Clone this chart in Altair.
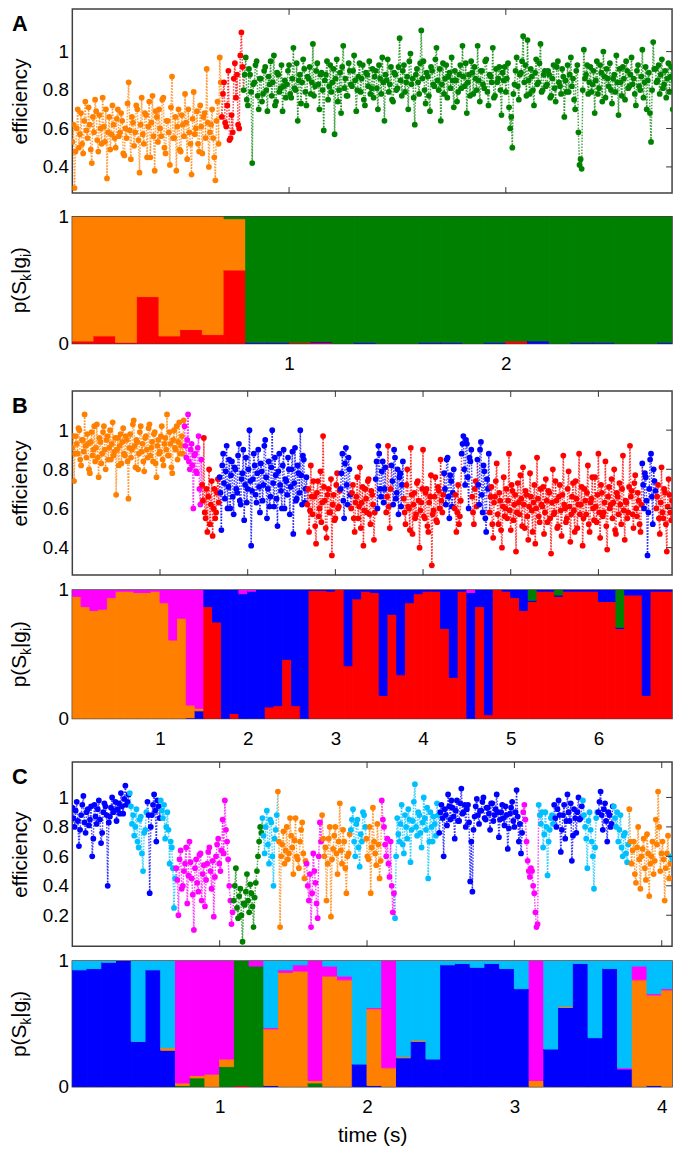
import altair as alt
import pandas as pd

FONT = "Liberation Sans, DejaVu Sans, sans-serif"
STATES = ["orange", "red", "green", "blue", "magenta", "lightblue"]
STATE_COLORS = ["#FF8000", "#FF0000", "#008000", "#0000FF", "#FF00FF", "#00BFFF"]

# ---------------- Panel A efficiency trace (runs of one state) ----------------
A_dt = 0.005
A_runs = [
    ("orange", [0.53, 0.62, 0.29, 0.48, 0.60, 0.70, 0.50, 0.57, 0.68, 0.52, 0.47, 0.64, 0.74, 0.59, 0.55, 0.71, 0.62, 0.49, 0.42, 0.66,
                0.58, 0.75, 0.69, 0.54, 0.48, 0.67, 0.60, 0.52, 0.76, 0.61, 0.53, 0.70, 0.34, 0.58, 0.66, 0.49, 0.57, 0.72, 0.62, 0.55,
                0.50, 0.65, 0.70, 0.56, 0.58, 0.68, 0.64, 0.47, 0.46, 0.60, 0.55, 0.73, 0.84, 0.59, 0.44, 0.66, 0.63, 0.51, 0.58, 0.72,
                0.70, 0.54, 0.37, 0.62, 0.76, 0.57, 0.52, 0.68, 0.67, 0.45, 0.61, 0.74, 0.45, 0.63, 0.77, 0.56, 0.38, 0.69, 0.66, 0.53,
                0.70, 0.60, 0.56, 0.75, 0.76, 0.50, 0.47, 0.64, 0.64, 0.58, 0.41, 0.71, 0.87, 0.55, 0.55, 0.66, 0.38, 0.61, 0.70, 0.49,
                0.48, 0.67, 0.62, 0.56, 0.78, 0.63, 0.44, 0.70, 0.58, 0.52, 0.36, 0.65, 0.79, 0.57, 0.60, 0.69, 0.52, 0.48, 0.72, 0.61,
                0.47, 0.66, 0.68, 0.55, 0.91, 0.63, 0.40, 0.58, 0.62, 0.70, 0.55, 0.45, 0.33, 0.64, 0.74, 0.52, 0.97, 0.84]),
    ("red", [0.66, 0.78, 0.84, 0.63, 0.61, 0.72, 0.90, 0.54, 0.55, 0.67, 0.58, 0.86, 0.94, 0.76, 0.88, 0.62, 0.60, 0.98, 1.10, 0.92]),
    ("green", [0.80, 0.88, 0.97, 0.75, 0.72, 0.91, 0.88, 0.79, 0.42, 0.83, 0.84, 0.93, 0.95, 0.77, 0.70, 0.86, 0.86, 0.74, 0.78, 0.90,
               0.92, 0.80, 0.69, 0.87, 0.83, 0.95, 0.77, 0.84, 0.98, 0.72, 0.74, 0.89, 0.88, 0.79, 0.81, 0.93, 0.69, 0.82, 0.85, 0.76,
               0.83, 0.90, 0.93, 0.78, 0.76, 0.86, 1.02, 0.81, 0.80, 0.94, 0.64, 0.85, 0.88, 0.73, 0.84, 0.96, 0.91, 0.79, 0.72, 0.87,
               0.86, 0.92, 0.78, 0.84, 1.04, 0.77, 0.82, 0.90, 0.94, 0.83, 0.70, 0.88, 0.89, 0.80, 0.59, 0.85, 0.88, 0.95, 0.75, 0.82,
               0.93, 0.79, 0.84, 0.91, 0.57, 0.86, 0.96, 0.74, 0.80, 0.89, 0.68, 0.92, 1.03, 0.81, 0.86, 0.77, 0.77, 0.94, 0.90, 0.83,
               0.82, 0.90, 0.98, 0.85, 0.69, 0.80, 0.87, 0.94, 0.79, 0.86, 0.93, 0.75, 0.72, 0.89, 0.88, 0.82, 0.95, 0.78, 0.81, 0.91,
               0.76, 0.87, 0.90, 0.81, 0.70, 0.93, 0.86, 0.78, 0.97, 0.84, 0.64, 0.88, 0.85, 0.96, 0.79, 0.83, 0.92, 0.75, 0.74, 0.89,
               0.88, 0.80, 0.81, 0.92, 1.07, 0.85, 0.77, 0.90, 0.93, 0.79, 0.84, 0.87, 0.70, 0.95, 0.99, 0.83, 0.86, 0.76, 0.62, 0.88,
               0.91, 0.84, 0.78, 0.94, 1.11, 0.86, 0.95, 0.80, 0.73, 0.89, 0.87, 0.77, 0.69, 0.92, 0.90, 0.83, 0.82, 0.96, 1.02, 0.85,
               0.80, 0.91, 0.64, 0.83, 0.94, 0.78, 0.86, 0.93, 0.76, 0.87, 0.89, 0.81, 0.97, 0.85, 0.71, 0.90, 0.85, 0.74, 0.79, 0.88,
               0.93, 0.81, 1.03, 0.87, 0.82, 0.94, 0.68, 0.84, 0.88, 0.77, 0.95, 0.89, 0.78, 0.92, 0.86, 0.80, 1.03, 0.85, 0.74, 0.90,
               0.90, 0.83, 0.81, 0.95, 0.96, 0.79, 0.72, 0.88, 0.87, 0.84, 1.02, 0.76, 0.77, 0.91, 0.84, 0.86, 0.92, 0.80, 0.67, 0.89,
               0.85, 0.92, 0.79, 0.86, 0.94, 0.71, 0.60, 0.66, 0.50, 0.78, 0.83, 0.90, 0.97, 0.82, 0.75, 0.88, 0.89, 0.95, 1.08, 0.84,
               0.93, 0.77, 1.06, 0.85, 0.78, 0.91, 0.87, 0.80, 0.72, 0.89, 0.96, 0.83, 0.84, 0.94, 1.04, 0.79, 0.80, 0.88, 0.90, 0.82,
               0.83, 0.90, 0.88, 0.76, 0.77, 0.86, 0.93, 0.81, 0.74, 0.92, 0.95, 0.84, 0.82, 0.78, 0.91, 0.87, 0.66, 0.85, 0.79, 0.93,
               0.79, 0.88, 0.97, 0.82, 0.86, 0.75, 0.70, 0.90, 0.93, 0.58, 0.41, 0.44, 0.39, 0.80, 1.01, 0.86, 0.88, 0.93, 0.78, 0.84,
               0.92, 0.79, 0.83, 0.90, 0.68, 0.85, 0.95, 0.78, 0.81, 0.93, 0.89, 0.74, 1.00, 0.87, 0.76, 0.91, 0.86, 0.82, 0.94, 0.80,
               0.73, 0.86, 0.88, 0.79, 0.98, 0.84, 0.67, 0.91, 0.84, 0.77, 0.92, 0.86, 0.75, 0.95, 0.90, 0.81, 0.82, 0.88, 0.97, 0.83,
               0.86, 0.78, 0.72, 0.90, 0.93, 0.82, 0.80, 0.87, 1.01, 0.76, 0.84, 0.92, 0.70, 0.85, 0.89, 0.68, 0.53, 0.80, 1.05, 0.91,
               0.91, 0.84, 0.85, 0.93, 0.78, 0.88, 0.96, 0.81, 0.83, 0.90, 0.76, 0.86, 0.94, 0.79, 0.87, 0.92, 0.70, 0.85, 0.99, 0.88]),
]

# ---------------- Panel B efficiency trace ----------------
B_dt = 0.01
B_runs = [
    ("orange", [0.91, 0.97, 0.74, 0.88, 0.97, 0.93, 0.88, 1.01, 1.00, 0.85, 0.82, 0.95, 0.95, 0.89, 1.08, 0.92, 0.86, 0.98, 0.93, 0.80,
                0.78, 0.94, 0.99, 0.87, 0.90, 1.02, 0.84, 0.91, 1.03, 0.86, 0.76, 0.96, 0.94, 0.83, 0.88, 0.99, 1.02, 0.90, 0.80, 0.95,
                0.97, 0.85, 0.91, 1.00, 0.85, 0.93, 1.04, 0.87, 0.89, 0.96, 0.67, 0.90, 0.96, 0.82, 0.92, 0.98, 0.83, 0.94, 1.01, 0.88,
                0.87, 0.97, 0.95, 0.84, 0.65, 0.91, 0.98, 0.86, 0.90, 1.03, 1.05, 0.92, 0.81, 0.95, 0.94, 0.80, 0.88, 0.99, 1.02, 0.89,
                0.93, 0.84, 0.79, 0.96, 0.97, 0.90, 0.86, 1.01, 1.03, 0.87, 0.91, 0.94, 0.84, 0.98, 0.99, 0.83, 0.76, 0.92, 0.95, 0.88,
                0.89, 0.97, 1.02, 0.85, 0.82, 0.93, 0.96, 0.90, 1.08, 0.87, 0.87, 0.99, 0.93, 0.81, 0.78, 0.95, 1.00, 0.91, 0.90, 1.02,
                0.85, 0.94, 1.04, 0.88, 0.92, 0.97, 0.88, 1.05]),
    ("magenta", [1.02, 0.92, 0.86, 0.95, 1.08, 0.84, 0.80, 0.90, 0.93, 0.82, 0.60, 0.87, 0.88, 0.79, 0.78, 0.91, 0.97, 0.70, 0.62, 0.85]),
    ("red", [0.72, 0.64, 0.96, 0.58, 0.55, 0.70, 0.48, 0.66, 0.80, 0.52, 0.62, 0.74, 0.46, 0.60, 0.70, 0.55, 0.58, 0.68, 0.75, 0.63]),
    ("blue", [0.76, 0.68, 0.49, 0.82, 0.88, 0.73, 0.65, 0.79, 0.92, 0.60, 0.71, 0.85, 0.60, 0.77, 0.84, 0.66, 0.57, 0.81, 0.80, 0.70,
              0.68, 0.87, 0.93, 0.64, 0.62, 0.75, 0.78, 0.90, 0.54, 0.72, 0.86, 0.63, 0.70, 0.80, 1.00, 0.74, 0.41, 0.69, 0.75, 0.88,
              0.82, 0.67, 0.63, 0.78, 0.90, 0.71, 0.58, 0.83, 0.79, 0.64, 0.72, 0.92, 0.95, 0.76, 0.55, 0.70, 0.84, 0.61, 0.66, 0.81,
              1.00, 0.73, 0.61, 0.86, 0.77, 0.65, 0.51, 0.79, 0.88, 0.72, 0.69, 0.60, 0.82, 0.90, 0.60, 0.75, 0.74, 0.67, 0.86, 0.80,
              0.57, 0.71, 0.80, 0.89, 0.47, 0.73, 0.91, 0.64, 0.65, 0.82, 0.78, 0.68, 1.00, 0.77, 0.62, 0.87, 0.85, 0.63, 0.70, 0.76]),
    ("red", [0.62, 0.70, 0.48, 0.59, 0.82, 0.66, 0.57, 0.74, 0.66, 0.51, 0.42, 0.68, 0.74, 0.56, 0.60, 0.79, 0.53, 0.63, 0.97, 0.71,
             0.64, 0.50, 0.45, 0.67, 0.70, 0.58, 0.58, 0.75, 0.36, 0.62, 0.67, 0.54, 0.55, 0.72, 0.78, 0.60, 0.61, 0.69]),
    ("blue", [0.70, 0.78, 0.88, 0.64, 0.55, 0.83, 0.91, 0.72, 0.62, 0.86, 0.80, 0.67]),
    ("red", [0.60, 0.68, 0.72, 0.55, 0.48, 0.63, 0.66, 0.76, 0.55, 0.61, 0.81, 0.50, 0.63, 0.71, 0.41, 0.59, 0.70, 0.65, 0.58, 0.74,
             0.75, 0.57, 0.52, 0.69, 0.67, 0.62, 0.44, 0.58]),
    ("blue", [0.75, 0.84, 0.60, 0.92, 0.88, 0.70, 0.66, 0.79, 0.84, 0.63, 0.70, 0.81]),
    ("red", [0.58, 0.66, 0.92, 0.61, 0.50, 0.70]),
    ("blue", [0.82, 0.74, 0.62, 0.90, 0.86, 0.65, 0.68, 0.80, 0.57, 0.76, 0.78, 0.61, 0.72, 0.84]),
    ("red", [0.65, 0.58, 0.52, 0.72, 0.80, 0.61, 0.60, 0.49, 0.91, 0.67, 0.47, 0.62, 0.68, 0.55, 0.57, 0.73, 0.74, 0.64, 0.40, 0.59,
             0.63, 0.70, 0.90, 0.56, 0.55, 0.68, 0.70, 0.51, 0.48, 0.63, 0.66, 0.77, 0.31, 0.57, 0.59, 0.66, 0.76, 0.54, 0.53, 0.71,
             0.69, 0.60, 0.85, 0.64, 0.58, 0.67]),
    ("blue", [0.78, 0.70, 0.62, 0.85, 0.86, 0.66, 0.55, 0.77, 0.74, 0.61, 0.68, 0.80]),
    ("red", [0.60, 0.67, 0.48, 0.58, 0.72, 0.52, 0.56, 0.64]),
    ("blue", [0.88, 0.93, 0.97, 0.80, 0.72, 0.95, 0.93, 0.76, 0.60, 0.86, 0.84, 0.90]),
    ("red", [0.66, 0.58, 0.52, 0.70, 0.74, 0.61]),
    ("blue", [0.85, 0.72, 0.62, 0.90, 0.94, 0.67, 0.58, 0.82, 0.79, 0.55, 0.48, 0.75, 0.70, 0.88]),
    ("red", [0.58, 0.66, 0.71, 0.52, 0.45, 0.63, 0.66, 0.74, 0.83, 0.57, 0.52, 0.68, 0.64, 0.49, 0.40, 0.61, 0.76, 0.56, 0.60, 0.70,
             0.55, 0.64, 0.88, 0.59, 0.49, 0.72, 0.69, 0.54, 0.62, 0.67, 0.38, 0.58, 0.73, 0.63, 0.57, 0.77, 0.65, 0.51, 0.81, 0.62,
             0.50, 0.69, 0.67, 0.56, 0.44, 0.61, 0.78, 0.66, 0.59, 0.48, 0.63, 0.72, 0.42, 0.60, 0.86, 0.65, 0.56, 0.53, 0.70, 0.62,
             0.61, 0.71, 0.47, 0.58, 0.75, 0.64, 0.53, 0.69, 0.68, 0.55, 0.37, 0.63, 0.80, 0.57, 0.58, 0.74, 0.64, 0.50, 0.51, 0.66,
             0.72, 0.59, 0.46, 0.67, 0.87, 0.62, 0.60, 0.53, 0.55, 0.70, 0.79, 0.61, 0.43, 0.57, 0.66, 0.73, 0.59, 0.48, 0.74, 0.65,
             0.50, 0.62, 0.88, 0.57, 0.62, 0.71, 0.41, 0.55, 0.70, 0.64, 0.57, 0.68, 0.82, 0.52, 0.48, 0.63, 0.65, 0.76, 0.60, 0.54,
             0.76, 0.61, 0.53, 0.67, 0.88, 0.58, 0.45, 0.72, 0.68, 0.56, 0.58, 0.63, 0.84, 0.51, 0.39, 0.66, 0.71, 0.60, 0.62, 0.75,
             0.55, 0.63, 0.80, 0.49, 0.47, 0.68, 0.66, 0.57, 0.73, 0.62, 0.52, 0.70, 0.87, 0.59, 0.44, 0.64, 0.63, 0.55, 0.58, 0.71,
             0.92, 0.66, 0.69, 0.57, 0.50, 0.73, 0.77, 0.60, 0.56, 0.68, 0.64, 0.52, 0.48, 0.62]),
    ("blue", [0.83, 0.72, 0.60, 0.78, 0.76, 0.64, 0.36, 0.58, 0.70, 0.85, 0.88, 0.66, 0.52, 0.80, 0.74, 0.69]),
    ("red", [0.60, 0.66, 0.72, 0.55, 0.47, 0.63, 0.81, 0.58, 0.55, 0.70, 0.68, 0.52, 0.38, 0.61, 0.75, 0.67, 0.58, 0.54, 0.64]),
]

# ---------------- Panel C efficiency trace ----------------
C_dt = 0.0075
C_runs = [
    ("blue", [0.93, 0.86, 0.80, 0.91, 0.97, 0.84, 0.67, 0.78, 0.88, 0.95, 1.01, 0.83, 0.76, 0.90, 0.92, 0.81, 0.85, 0.94, 0.60, 0.72,
              0.95, 0.87, 0.82, 0.92, 0.98, 0.85, 0.69, 0.76, 0.90, 0.96, 0.94, 0.88, 0.40, 0.83, 0.87, 0.93, 1.00, 0.90, 0.91, 0.97,
              0.84, 0.92, 0.96, 0.89, 1.03, 0.94, 0.89, 0.99, 1.08, 0.95, 0.97, 1.02]),
    ("lightblue", [1.03, 0.94, 0.82, 0.88, 0.74, 0.80, 0.92, 0.70, 0.66, 0.85, 0.87, 0.62, 0.50, 0.76, 0.78, 0.90]),
    ("blue", [0.97, 0.88, 0.35, 0.80, 0.88, 0.95, 1.02, 0.91, 0.70, 0.98, 0.94, 0.86]),
    ("lightblue", [0.98, 0.91, 0.86, 0.95, 0.72, 0.80, 0.90, 0.78, 0.55, 0.70, 0.66, 0.52, 0.25, 0.45]),
    ("magenta", [0.52, 0.44, 0.20, 0.58, 0.64, 0.38, 0.40, 0.50, 0.55, 0.66, 0.28, 0.47, 0.70, 0.56, 0.45, 0.34, 0.10, 0.52, 0.58, 0.42,
                 0.36, 0.61, 0.62, 0.30, 0.48, 0.54, 0.26, 0.44, 0.55, 0.63, 0.66, 0.50, 0.38, 0.57, 0.19, 0.46, 0.60, 0.68, 0.72, 0.55,
                 0.50, 0.64, 0.85, 0.62, 0.98, 0.78, 0.70, 0.58, 0.40, 0.30, 0.14, 0.22]),
    ("green", [0.30, 0.40, 0.52, 0.25, 0.18, 0.33, 0.38, 0.20, 0.02, 0.28, 0.27, 0.36, 0.48, 0.30, 0.22, 0.41, 0.35, 0.26, 0.12, 0.32,
               0.42, 0.50, 0.60, 0.70, 0.80, 0.76]),
    ("lightblue", [0.86, 0.74, 0.62, 0.80, 0.91, 0.68, 0.55, 0.85, 0.83, 0.60, 0.40, 0.72, 0.78, 0.88]),
    ("orange", [1.04, 0.70, 0.12, 0.60, 0.68, 0.77, 0.55, 0.64, 0.80, 0.58, 0.62, 0.86, 0.74, 0.66, 0.48, 0.71, 0.86, 0.60, 0.58, 0.52,
                0.70, 0.78, 0.83, 0.62, 0.45, 0.57]),
    ("magenta", [0.55, 0.40, 0.30, 0.48, 0.12, 0.35, 0.62, 0.50, 0.42, 0.28, 0.18, 0.60, 0.83, 0.70]),
    ("orange", [0.88, 0.72, 0.60, 0.66, 0.30, 0.55, 0.72, 0.80, 0.19, 0.58, 0.65, 0.74, 0.80, 0.62, 0.48, 0.70, 0.96, 0.64, 0.55, 0.78,
                0.70, 0.52, 0.35, 0.60, 0.62, 0.75]),
    ("lightblue", [0.78, 0.85, 0.92, 0.70, 0.60, 0.82, 0.85, 0.66, 0.53, 0.75, 0.70, 0.90, 0.88, 0.80]),
    ("orange", [0.72, 0.60, 0.58, 0.80, 0.35, 0.66, 0.93, 0.70, 0.62, 0.54, 0.82, 0.68, 0.45, 0.57]),
    ("magenta", [0.98, 0.85, 0.80, 0.68, 0.60, 0.72, 0.55, 0.46, 0.70, 0.40, 0.22, 0.35]),
    ("lightblue", [0.18, 0.60, 0.86, 0.75, 0.70, 0.82, 0.95, 0.68, 0.62, 0.88, 0.80, 0.72, 0.92, 0.85, 0.56, 0.78, 0.84, 0.97, 1.09, 0.80,
                   0.74, 0.90, 0.88, 0.76, 0.66, 0.83, 1.00, 0.86, 0.78, 0.93, 0.45, 0.70, 0.90, 0.80, 0.70, 0.87, 0.82, 0.74, 0.96, 0.88]),
    ("blue", [0.76, 0.90, 0.95, 0.86, 0.60, 0.92, 0.88, 0.81, 1.02, 0.94, 0.85, 0.98, 0.93, 0.87, 0.72, 0.91, 0.98, 0.84, 0.84, 0.96,
              1.06, 0.89, 0.90, 0.95, 0.80, 0.92, 0.95, 0.83, 0.43, 0.70, 0.36, 0.78, 0.87, 0.94, 0.99, 0.88, 0.82, 0.91, 0.91, 0.97,
              1.00, 0.86, 0.85, 0.93, 0.93, 0.89, 0.78, 0.96, 0.96, 0.84, 0.88, 0.92, 1.02, 0.90, 0.73, 0.85, 0.90, 0.95, 0.86, 0.81,
              0.94, 0.88, 0.65, 0.79, 0.89, 0.93, 0.97, 0.84, 0.80, 0.90, 1.05, 0.87, 0.70, 0.82, 0.62, 0.76]),
    ("magenta", [0.90, 0.95, 0.85, 0.70, 0.57, 0.50, 0.46, 0.52, 0.50, 0.40, 0.35, 0.22, 0.12, 0.14]),
    ("lightblue", [0.95, 0.88, 0.82, 0.90, 0.66, 0.75, 0.90, 0.80, 0.47, 0.70, 0.78, 0.86, 0.88, 0.82]),
    ("blue", [0.95, 0.86, 0.80, 0.92, 0.98, 0.88, 0.63, 0.78, 0.88, 0.95, 0.72, 0.84, 1.02, 0.90, 0.84, 0.96, 0.57, 0.74, 0.92, 0.86,
              0.76, 0.90, 1.00, 0.85, 0.86, 0.94]),
    ("lightblue", [0.98, 0.88, 0.80, 0.72, 0.52, 0.84, 0.90, 0.78, 0.70, 0.60, 0.38, 0.66, 0.86, 0.90]),
    ("blue", [0.90, 0.97, 1.04, 0.88, 0.78, 0.92, 0.96, 0.84, 0.70, 0.90, 0.88, 0.80, 0.82, 0.94]),
    ("lightblue", [0.94, 0.86, 0.80, 0.90, 0.70, 0.78, 0.88, 0.66, 0.60, 0.74, 0.76, 0.62, 0.56, 0.68]),
    ("orange", [0.92, 0.70, 0.55, 0.64, 0.70, 0.48, 0.42, 0.66, 0.80, 0.58, 0.38, 0.60, 0.65, 0.72, 0.52, 0.44, 0.75, 0.62, 0.33, 0.55,
                0.60, 0.70, 0.48, 0.57, 0.85, 0.68, 1.04, 0.80, 0.50, 0.62, 0.70, 0.58, 0.30, 0.52, 0.62, 0.74, 0.45, 0.55]),
    ("lightblue", [0.60, 0.58]),
]

# ---------------- State probabilities per 0.1 s bin ----------------
BIN = 0.1
A_nbins = 28
A_p_red = [0.02, 0.06, 0.01, 0.37, 0.06, 0.11, 0.07, 0.58, 0, 0, 0.01, 0.01, 0, 0,
           0, 0, 0, 0, 0, 0, 0.02, 0, 0, 0, 0, 0, 0, 0]
A_p_blue = [0, 0, 0, 0, 0, 0, 0, 0, 0.01, 0.01, 0, 0.005, 0, 0.01,
            0, 0, 0.01, 0.01, 0, 0.01, 0, 0.02, 0, 0.01, 0.01, 0, 0, 0.01]
A_p_orange = [0.98, 0.94, 0.99, 0.63, 0.94, 0.89, 0.93, 0.405, 0, 0, 0, 0, 0, 0,
              0, 0, 0, 0, 0, 0, 0, 0, 0, 0, 0, 0, 0, 0]
A_order = ["red", "blue", "orange", "green"]          # green fills the rest

B_nbins = 69
B_p_red = [0, 0, 0, 0, 0, 0, 0, 0, 0, 0, 0, 0, 0, 0, 0,
           0.87, 0.75, 0, 0.04, 0, 0, 0, 0.09, 0.10, 0.46, 0.10, 0,
           0.995, 0.995, 0.99, 1.0, 0.41, 0.93, 0.99, 0.98, 0.18, 0.81, 0.34, 0.90,
           0.97, 0.99, 0.99, 0.70, 0.32, 0.99, 0.0, 0.87, 0.03, 1.0, 0.99, 0.94,
           0.84, 0.91, 0.99, 0.99, 0.95, 0.99, 0.99, 0.99, 0.99, 0.91, 0.91, 0.70,
           0.96, 0.96, 0.18, 0.99, 0.99, 0.99]
B_p_orange = {0: 0.95, 1: 0.87, 2: 0.84, 3: 0.85, 4: 0.94, 5: 0.99, 6: 0.99, 7: 0.98,
              8: 0.98, 9: 0.99, 10: 0.90, 11: 0.61, 12: 0.78, 13: 0.10, 14: 0.02}
B_p_magenta = {0: 0.05, 1: 0.13, 2: 0.16, 3: 0.15, 4: 0.06, 5: 0.01, 6: 0.01, 7: 0.02,
               8: 0.02, 9: 0.01, 10: 0.10, 11: 0.39, 12: 0.22, 13: 0.895, 14: 0.92,
               19: 0.03, 20: 0.01, 45: 0.02}
B_p_green = {52: 0.08, 55: 0.04, 62: 0.29}
B_order = ["red", "blue", "orange", "magenta", "green"]  # blue fills the rest

C_nbins = 41
C_p_blue = [0.93, 0.94, 0.99, 1.0, 0.36, 0.93, 0.29, 0, 0, 0, 0, 0, 0, 0.01, 0, 0,
            0, 0, 0, 0.18, 0.01, 0, 0.23, 0.36, 0.22, 0.97, 0.98, 0.95, 0.98, 0.94,
            0.78, 0, 0.30, 0.63, 0.98, 0.39, 0.94, 0.14, 0, 0.01, 0]
C_p_red = {11: 0.01}
C_p_green = {7: 0.01, 8: 0.07, 10: 0.16, 11: 0.99, 12: 0.96, 16: 0.03}
C_p_orange = {6: 0.02, 7: 0.02, 8: 0.02, 9: 0.10, 10: 0.06, 13: 0.45, 14: 0.91,
              15: 0.92, 16: 0.02, 17: 0.88, 18: 0.85, 20: 0.61, 21: 0.15, 22: 0.01,
              23: 0.01, 31: 0.05, 33: 0.01, 38: 0.85, 39: 0.72, 40: 0.77}
C_p_magenta = {7: 0.97, 8: 0.91, 9: 0.90, 10: 0.78, 12: 0.04, 13: 0.01, 14: 0.02,
               15: 0.05, 16: 0.95, 17: 0.08, 18: 0.03, 20: 0.01, 21: 0.85, 31: 0.95,
               37: 0.01, 38: 0.11, 39: 0.01, 40: 0.01}
C_order = ["red", "blue", "green", "orange", "magenta", "lightblue"]  # lightblue fills

# axis ranges / ticks
A_xmax, B_xmax, C_xmax = 2.767, 6.84, 4.07
A_ydom, B_ydom, C_ydom = [0.264, 1.222], [0.26, 1.2], [-0.01, 1.24]
A_yticks = [0.4, 0.6, 0.8, 1]
B_yticks = [0.4, 0.6, 0.8, 1]
C_yticks = [0.2, 0.4, 0.6, 0.8, 1]
A_xticks = [1, 2]
B_xticks = [1, 2, 3, 4, 5, 6]
C_xticks = [1, 2, 3, 4]
letters = ["A", "B", "C"]
prob_title = "p(Sₖ|gᵢ)"
# y-axis title of probability panels, drawn piecewise: (text, is_subscript)
prob_title_parts = [("p(S", False), ("k", True), ("|g", False), ("i", True), (")", False)]

W = 606
TITLE_FS, SUB_FS = 21, 14
CHAR_W = {"p": 0.556, "(": 0.333, "S": 0.667, "k": 0.5, "|": 0.26, "g": 0.556,
          "i": 0.222, ")": 0.333}


def dense(values, n):
    if isinstance(values, dict):
        return [values.get(i, 0) for i in range(n)]
    return list(values)


def eff_frame(runs, dt):
    rows = []
    i = 0
    for state, vals in runs:
        for v in vals:
            rows.append({"t": round(i * dt, 5), "e": v, "state": state})
            i += 1
    df = pd.DataFrame(rows)
    df["t2"] = df["t"].shift(-1)
    df["e2"] = df["e"].shift(-1)
    return df


def prob_frame(nbins, order, lists):
    cols = {s: dense(v, nbins) for s, v in lists.items()}
    filler = [s for s in order if s not in cols][0]
    rows = []
    for b in range(nbins):
        vals = {s: cols[s][b] for s in cols}
        vals[filler] = max(0.0, 1.0 - sum(vals.values()))
        y = 0.0
        for s in order:
            v = vals[s]
            if v > 0:
                rows.append({"t0": round(b * BIN, 3), "t1": round((b + 1) * BIN, 3),
                             "y0": y, "y1": min(1.0, y + v), "state": s})
            y += v
    return pd.DataFrame(rows)


color_enc = alt.Color("state:N", scale=alt.Scale(domain=STATES, range=STATE_COLORS), legend=None)
stroke_enc = alt.Stroke("state:N", scale=alt.Scale(domain=STATES, range=STATE_COLORS), legend=None)


def eff_chart(df, xmax, ydom, yticks, xticks, letter, h):
    xs = alt.Scale(domain=[0, xmax], nice=False, zero=False)
    ys = alt.Scale(domain=ydom, nice=False, zero=False)
    yax = alt.Axis(values=yticks, format="~g", title="efficiency")
    X = alt.X("t:Q", scale=xs, axis=None)
    Y = alt.Y("e:Q", scale=ys, axis=yax)
    lines = alt.Chart(df.dropna()).mark_rule(
        strokeDash=[1.6, 1.4], strokeWidth=1.5, opacity=0.7, clip=True
    ).encode(x=X, y=Y, x2="t2:Q", y2="e2:Q", color=color_enc)
    pts = alt.Chart(df).mark_circle(size=34, opacity=1, clip=True).encode(
        x=X, y=Y, color=color_enc)
    xt = pd.DataFrame({"t": xticks})
    top = alt.Chart(xt).mark_rule(color="#333333", strokeWidth=1).encode(
        x=X, y=alt.value(0), y2=alt.value(6))
    bot = alt.Chart(xt).mark_rule(color="#333333", strokeWidth=1).encode(
        x=X, y=alt.value(h - 6), y2=alt.value(h))
    yt = pd.DataFrame({"e": yticks})
    right = alt.Chart(yt).mark_rule(color="#333333", strokeWidth=1).encode(
        y=Y, x=alt.value(W - 6), x2=alt.value(W))
    lab = alt.Chart(pd.DataFrame({"label": [letter]})).mark_text(
        font=FONT, fontSize=22, fontWeight="bold", align="center",
        baseline="alphabetic", color="black"
    ).encode(x=alt.value(-53), y=alt.value(22), text="label:N")
    return alt.layer(lines, pts, top, bot, right, lab).properties(width=W, height=h)


def title_layers(h):
    widths = [sum(CHAR_W[c] for c in txt) * (SUB_FS if sub else TITLE_FS)
              for txt, sub in prob_title_parts]
    start = h / 2 + sum(widths) / 2
    layers = []
    off = 0.0
    for (txt, sub), w in zip(prob_title_parts, widths):
        layers.append(
            alt.Chart(pd.DataFrame({"label": [txt]})).mark_text(
                font=FONT, fontSize=SUB_FS if sub else TITLE_FS, angle=270,
                align="left", baseline="alphabetic", color="black"
            ).encode(x=alt.value(-41.5 if sub else -46.5), y=alt.value(start - off),
                     text="label:N")
        )
        off += w
    return layers


def prob_chart(df, xmax, xticks, h, xtitle=None):
    xs = alt.Scale(domain=[0, xmax], nice=False, zero=False)
    if xtitle:
        xax = alt.Axis(values=xticks, format="d", title=xtitle)
    else:
        xax = alt.Axis(values=xticks, format="d", title=None)
    rects = alt.Chart(df).mark_rect(
        strokeWidth=1, opacity=1, fillOpacity=1, strokeOpacity=1, clip=True
    ).encode(
        x=alt.X("t0:Q", scale=xs, axis=xax),
        x2="t1:Q",
        y=alt.Y("y0:Q", scale=alt.Scale(domain=[0, 1], nice=False),
                axis=alt.Axis(values=[0, 1], format="d", title=prob_title, titleOpacity=0)),
        y2="y1:Q",
        color=color_enc,
        stroke=stroke_enc,
    )
    return alt.layer(rects, *title_layers(h)).properties(width=W, height=h)


A_eff = eff_chart(eff_frame(A_runs, A_dt), A_xmax, A_ydom, A_yticks, A_xticks, letters[0], 186)
B_eff = eff_chart(eff_frame(B_runs, B_dt), B_xmax, B_ydom, B_yticks, B_xticks, letters[1], 186)
C_eff = eff_chart(eff_frame(C_runs, C_dt), C_xmax, C_ydom, C_yticks, C_xticks, letters[2], 186)

A_prob = prob_chart(prob_frame(A_nbins, A_order, {"red": A_p_red, "blue": A_p_blue,
                                                  "orange": A_p_orange}),
                    A_xmax, A_xticks, 128)
B_prob = prob_chart(prob_frame(B_nbins, B_order, {"red": B_p_red, "orange": B_p_orange,
                                                  "magenta": B_p_magenta, "green": B_p_green}),
                    B_xmax, B_xticks, 130)
C_prob = prob_chart(prob_frame(C_nbins, C_order, {"red": C_p_red, "blue": C_p_blue,
                                                  "green": C_p_green, "orange": C_p_orange,
                                                  "magenta": C_p_magenta}),
                    C_xmax, C_xticks, 127, xtitle="time (s)")

gA = alt.vconcat(A_eff, A_prob, spacing=12)
gB = alt.vconcat(B_eff, B_prob, spacing=3)
gC = alt.vconcat(C_eff, C_prob, spacing=3)
top2 = alt.vconcat(gA, gB, spacing=15)
chart = alt.vconcat(top2, gC, spacing=11).properties(
    padding={"left": 0, "top": -7, "right": 4, "bottom": 0}
).configure_view(
    stroke="#404040", strokeWidth=1.5
).configure_axis(
    domain=False, ticks=False, grid=False,
    labelFont=FONT, labelFontSize=19, labelColor="black",
    titleFont=FONT, titleFontSize=21, titleFontWeight="normal", titleColor="black",
).configure_axisY(
    minExtent=32, maxExtent=32, labelPadding=4, titlePadding=10
).configure_axisX(
    labelPadding=11, titlePadding=8
).configure_concat(spacing=14)

chart.save("out.html", embed_options={"renderer": "svg", "actions": False})
